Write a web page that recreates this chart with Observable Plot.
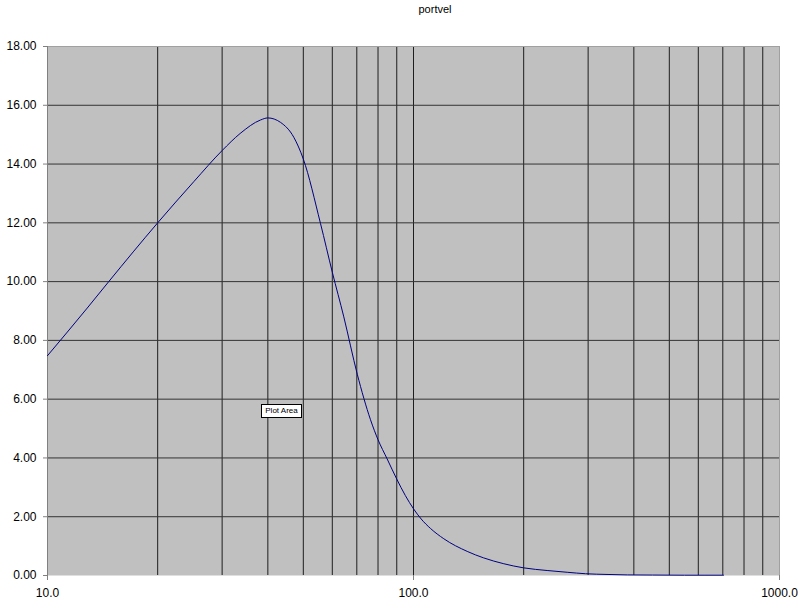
<!DOCTYPE html>
<html>
<head>
<meta charset="utf-8">
<script src="https://cdn.jsdelivr.net/npm/d3@7"></script>
<script src="https://cdn.jsdelivr.net/npm/@observablehq/plot@0.6"></script>
<style>
  html, body { margin: 0; padding: 0; background: #fff; }
  #wrap { position: relative; width: 800px; height: 600px; overflow: hidden; font-family: "Liberation Sans", Arial, sans-serif; }
  #title { position: absolute; top: 4px; left: 435px; transform: translateX(-50%); font-size: 11px; line-height: 11px; color: #000; white-space: nowrap; }
  #tip { position: absolute; left: 261px; top: 404px; width: 39px; height: 12px; border: 1px solid #000; background: #fff; font-size: 8px; line-height: 12px; text-align: center; color: #000; white-space: nowrap; }
  #chart { position: absolute; left: 0; top: 0; }
</style>
</head>
<body>
<div id="wrap">
  <div id="chart"></div>
  <div id="title">portvel</div>
  <div id="tip">Plot Area</div>
</div>
<script>
const freq = [10, 12.84, 14.7, 20, 25.1, 30, 33.6, 38.2, 40, 43.3, 47.1, 50, 55.7, 60, 64.5, 70.2, 76.3, 80, 84.7, 90, 95, 100, 105, 111.3, 121, 140.2, 155.4, 176.5, 200, 231.8, 263, 295, 340, 384, 450, 550, 703];
const portvel = [7.48, 9.1, 10.0, 12.0, 13.4, 14.46, 15.04, 15.5, 15.57, 15.42, 14.91, 14.17, 11.98, 10.32, 8.8, 6.85, 5.3, 4.62, 3.97, 3.28, 2.72, 2.27, 1.92, 1.6, 1.25, 0.82, 0.6, 0.4, 0.26, 0.17, 0.11, 0.06, 0.035, 0.02, 0.015, 0.01, 0.01];
const xTicks = [10, 100, 1000];
const xGrid = [20, 30, 40, 50, 60, 70, 80, 90, 100, 200, 300, 400, 500, 600, 700, 800, 900];
const yTicks = [0, 2, 4, 6, 8, 10, 12, 14, 16, 18];
const yGrid = [2, 4, 6, 8, 10, 12, 14, 16];

const data = freq.map((f, i) => ({f, v: portvel[i]}));

const chart = Plot.plot({
  width: 800,
  height: 600,
  marginLeft: 47,
  marginRight: 21,
  marginTop: 46,
  marginBottom: 25,
  style: {fontFamily: "'Liberation Sans', Arial, sans-serif", fontSize: "12px", color: "#000", background: "transparent", overflow: "visible"},
  x: {type: "log", domain: [10, 1000], label: null},
  y: {domain: [0, 18], label: null},
  marks: [
    Plot.frame({fill: "#c0c0c0", stroke: null}),
    Plot.ruleX(xGrid, {stroke: "#1e1e1e", strokeWidth: 1}),
    Plot.ruleY(yGrid, {stroke: "#333333", strokeWidth: 1}),
    Plot.frame({anchor: "top", stroke: "#a0a0a0"}),
    Plot.frame({anchor: "right", stroke: "#a0a0a0"}),
    Plot.frame({anchor: "left", stroke: "#808080"}),
    Plot.line(data, {x: "f", y: "v", stroke: "#000080", strokeWidth: 1, curve: "monotone-x"}),
    Plot.axisY({ticks: yTicks, tickFormat: d => d.toFixed(2), tickSize: 4, tickPadding: 7, stroke: "#808080", fontSize: 12, label: null}),
    Plot.axisX({ticks: xTicks, tickFormat: d => d.toFixed(1), tickSize: 5, tickPadding: 8, stroke: "#808080", fontSize: 12, label: null})
  ]
});
document.getElementById("chart").appendChild(chart);
</script>
</body>
</html>
